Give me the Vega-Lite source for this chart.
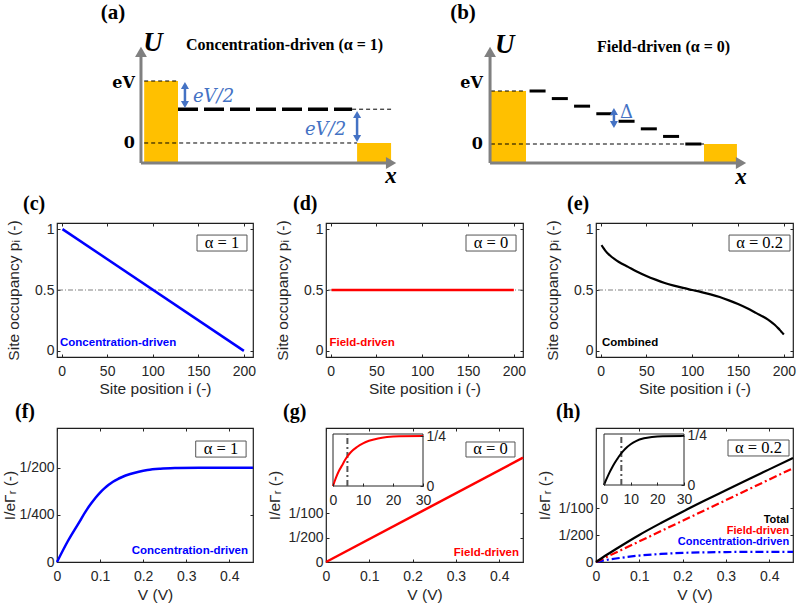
{
"$schema": "https://vega.github.io/schema/vega-lite/v6.json",
"background": "white",
"padding": {"left": 2, "top": 0, "right": 0, "bottom": 0},
"config": {
 "view": {"stroke": "#1f1f1f", "strokeWidth": 1.2},
 "axis": {"labelFont": "Liberation Sans", "labelFontSize": 14, "titleFont": "Liberation Sans", "titleFontSize": 15.5, "titleFontWeight": "normal", "labelColor": "#262626", "titleColor": "#262626", "tickColor": "#262626", "tickSize": -3, "tickWidth": 1, "domain": false, "grid": false, "labelFlush": false, "labelOverlap": false},
 "axisX": {"labelPadding": 10},
 "axisY": {"labelPadding": 6}
},
"columns": 3,
"spacing": {"row": 71, "column": 73},
"bounds": "flush",
"concat": [
 {
  "width": 196, "height": 152, "view": {"stroke": null},
  "encoding": {
   "x": {"field": "x", "type": "quantitative", "scale": {"domain": [-0.6798, 0.4213], "nice": false, "zero": false}, "axis": null},
   "y": {"field": "y", "type": "quantitative", "scale": {"domain": [-0.1452, 2.3065], "nice": false, "zero": false}, "axis": null}
  },
  "layer": [
   {"data": {"values": [{"x": -0.19, "x2": 0, "y": -0.323, "y2": 1}, {"x": 1.006, "x2": 1.197, "y": -0.323, "y2": 0}]}, "mark": {"type": "rect", "fill": "#FFC000"}, "encoding": {"x2": {"field": "x2"}, "y2": {"field": "y2"}}},
   {"data": {"values": [{"x": -0.19, "x2": 0, "y": 1, "y2": 1}, {"x": -0.19, "x2": 1.006, "y": 0, "y2": 0}, {"x": 0.978, "x2": 1.197, "y": 0.545, "y2": 0.545}]}, "mark": {"type": "rule", "color": "#000000", "strokeWidth": 1, "strokeDash": [4, 3]}, "encoding": {"x2": {"field": "x2"}, "y2": {"field": "y2"}}},
   {"data": {"values": [{"x": 0, "x2": 0.978, "y": 0.545, "y2": 0.545}]}, "mark": {"type": "rule", "color": "#000000", "strokeWidth": 3.5, "strokeDash": [20, 6]}, "encoding": {"x2": {"field": "x2"}, "y2": {"field": "y2"}}},
   {"data": {"values": [{"x": -0.208, "x2": -0.208, "y": -0.323, "y2": 1.47}, {"x": -0.208, "x2": 1.197, "y": -0.323, "y2": -0.323}]}, "mark": {"type": "rule", "color": "#808080", "strokeWidth": 3}, "encoding": {"x2": {"field": "x2"}, "y2": {"field": "y2"}}},
   {"data": {"values": [{"x": -0.208, "y": 1.47}]}, "mark": {"type": "point", "shape": "triangle-up", "filled": true, "size": 140, "color": "#808080", "opacity": 1}},
   {"data": {"values": [{"x": 1.197, "y": -0.323}]}, "mark": {"type": "point", "shape": "triangle-right", "filled": true, "size": 140, "color": "#808080", "opacity": 1}},
   {"data": {"values": [{"x": 0.039, "x2": 0.039, "y": 0.621, "y2": 0.928}, {"x": 1.006, "x2": 1.006, "y": 0.072, "y2": 0.46}]}, "mark": {"type": "rule", "color": "#4472C4", "strokeWidth": 2.5}, "encoding": {"x2": {"field": "x2"}, "y2": {"field": "y2"}}},
   {"data": {"values": [{"x": 0.039, "y": 0.928}, {"x": 1.006, "y": 0.46}]}, "mark": {"type": "point", "shape": "triangle-up", "filled": true, "size": 65, "color": "#4472C4", "opacity": 1}},
   {"data": {"values": [{"x": 0.039, "y": 0.621}, {"x": 1.006, "y": 0.072}]}, "mark": {"type": "point", "shape": "triangle-down", "filled": true, "size": 65, "color": "#4472C4", "opacity": 1}},
   {"data": {"values": [{"x": -0.242, "y": 0.968, "t": "eV"}, {"x": -0.242, "y": 0, "t": "0"}]}, "mark": {"type": "text", "font": "DejaVu Serif", "fontWeight": "bold", "fontSize": 16, "align": "right", "baseline": "middle", "color": "#000000"}, "encoding": {"text": {"field": "t"}}},
   {"data": {"values": [{"x": -0.14, "y": 1.613, "t": "U"}]}, "mark": {"type": "text", "font": "Liberation Serif", "fontWeight": "bold", "fontStyle": "italic", "fontSize": 27, "align": "center", "baseline": "middle", "color": "#000000"}, "encoding": {"text": {"field": "t"}}},
   {"data": {"values": [{"x": 1.197, "y": -0.53, "t": "x"}]}, "mark": {"type": "text", "font": "Liberation Serif", "fontWeight": "bold", "fontStyle": "italic", "fontSize": 23, "align": "center", "baseline": "middle", "color": "#000000"}, "encoding": {"text": {"field": "t"}}},
   {"data": {"values": [{"x": 0.045, "y": 1.581, "t": "Concentration-driven (α = 1)"}]}, "mark": {"type": "text", "font": "Liberation Serif", "fontWeight": "bold", "fontSize": 16, "align": "left", "baseline": "middle", "color": "#000000"}, "encoding": {"text": {"field": "t"}}},
   {"data": {"values": [{"x": -0.365, "y": 2.097, "t": "(a)"}]}, "mark": {"type": "text", "font": "Liberation Serif", "fontWeight": "bold", "fontSize": 21, "align": "center", "baseline": "middle", "color": "#000000"}, "encoding": {"text": {"field": "t"}}},
   {"data": {"values": [{"x": 0.084, "y": 0.742, "t": "eV/2"}, {"x": 0.713, "y": 0.21, "t": "eV/2"}]}, "mark": {"type": "text", "font": "DejaVu Serif", "fontStyle": "italic", "fontSize": 18, "align": "left", "baseline": "middle", "color": "#4472C4"}, "encoding": {"text": {"field": "t"}}}
  ]
 },
 {
  "width": 197, "height": 152, "view": {"stroke": null},
  "encoding": {
   "x": {"field": "x", "type": "quantitative", "scale": {"domain": [-1.1236, -0.01685], "nice": false, "zero": false}, "axis": null},
   "y": {"field": "y", "type": "quantitative", "scale": {"domain": [-0.1509, 2.717], "nice": false, "zero": false}, "axis": null}
  },
  "layer": [
   {"data": {"values": [{"x": -0.197, "x2": 0, "y": -0.358, "y2": 1}, {"x": 1.0, "x2": 1.185, "y": -0.358, "y2": 0}]}, "mark": {"type": "rect", "fill": "#FFC000"}, "encoding": {"x2": {"field": "x2"}, "y2": {"field": "y2"}}},
   {"data": {"values": [{"x": -0.197, "x2": 0, "y": 1, "y2": 1}, {"x": -0.197, "x2": 1.0, "y": 0, "y2": 0}]}, "mark": {"type": "rule", "color": "#000000", "strokeWidth": 1, "strokeDash": [4, 3]}, "encoding": {"x2": {"field": "x2"}, "y2": {"field": "y2"}}},
   {"data": {"values": [{"x": 0.02, "x2": 0.11, "y": 1, "y2": 1}, {"x": 0.145, "x2": 0.235, "y": 0.857, "y2": 0.857}, {"x": 0.27, "x2": 0.36, "y": 0.714, "y2": 0.714}, {"x": 0.395, "x2": 0.485, "y": 0.571, "y2": 0.571}, {"x": 0.52, "x2": 0.61, "y": 0.429, "y2": 0.429}, {"x": 0.645, "x2": 0.735, "y": 0.286, "y2": 0.286}, {"x": 0.77, "x2": 0.86, "y": 0.143, "y2": 0.143}, {"x": 0.895, "x2": 0.985, "y": 0, "y2": 0}]}, "mark": {"type": "rule", "color": "#000000", "strokeWidth": 3}, "encoding": {"x2": {"field": "x2"}, "y2": {"field": "y2"}}},
   {"data": {"values": [{"x": -0.202, "x2": -0.202, "y": -0.358, "y2": 1.736}, {"x": -0.202, "x2": 1.208, "y": -0.358, "y2": -0.358}]}, "mark": {"type": "rule", "color": "#808080", "strokeWidth": 3}, "encoding": {"x2": {"field": "x2"}, "y2": {"field": "y2"}}},
   {"data": {"values": [{"x": -0.202, "y": 1.736}]}, "mark": {"type": "point", "shape": "triangle-up", "filled": true, "size": 140, "color": "#808080", "opacity": 1}},
   {"data": {"values": [{"x": 1.208, "y": -0.358}]}, "mark": {"type": "point", "shape": "triangle-right", "filled": true, "size": 140, "color": "#808080", "opacity": 1}},
   {"data": {"values": [{"x": 0.494, "x2": 0.494, "y": 0.368, "y2": 0.613}]}, "mark": {"type": "rule", "color": "#4472C4", "strokeWidth": 2.5}, "encoding": {"x2": {"field": "x2"}, "y2": {"field": "y2"}}},
   {"data": {"values": [{"x": 0.494, "y": 0.613}]}, "mark": {"type": "point", "shape": "triangle-up", "filled": true, "size": 65, "color": "#4472C4", "opacity": 1}},
   {"data": {"values": [{"x": 0.494, "y": 0.368}]}, "mark": {"type": "point", "shape": "triangle-down", "filled": true, "size": 65, "color": "#4472C4", "opacity": 1}},
   {"data": {"values": [{"x": -0.242, "y": 1.151, "t": "eV"}, {"x": -0.242, "y": 0, "t": "0"}]}, "mark": {"type": "text", "font": "DejaVu Serif", "fontWeight": "bold", "fontSize": 16, "align": "right", "baseline": "middle", "color": "#000000"}, "encoding": {"text": {"field": "t"}}},
   {"data": {"values": [{"x": -0.12, "y": 1.868, "t": "U"}]}, "mark": {"type": "text", "font": "Liberation Serif", "fontWeight": "bold", "fontStyle": "italic", "fontSize": 27, "align": "center", "baseline": "middle", "color": "#000000"}, "encoding": {"text": {"field": "t"}}},
   {"data": {"values": [{"x": 1.208, "y": -0.62, "t": "x"}]}, "mark": {"type": "text", "font": "Liberation Serif", "fontWeight": "bold", "fontStyle": "italic", "fontSize": 23, "align": "center", "baseline": "middle", "color": "#000000"}, "encoding": {"text": {"field": "t"}}},
   {"data": {"values": [{"x": 0.399, "y": 1.83, "t": "Field-driven (α = 0)"}]}, "mark": {"type": "text", "font": "Liberation Serif", "fontWeight": "bold", "fontSize": 16, "align": "left", "baseline": "middle", "color": "#000000"}, "encoding": {"text": {"field": "t"}}},
   {"data": {"values": [{"x": -0.354, "y": 2.472, "t": "(b)"}]}, "mark": {"type": "text", "font": "Liberation Serif", "fontWeight": "bold", "fontSize": 21, "align": "center", "baseline": "middle", "color": "#000000"}, "encoding": {"text": {"field": "t"}}},
   {"data": {"values": [{"x": 0.528, "y": 0.585, "t": "Δ"}]}, "mark": {"type": "text", "font": "DejaVu Serif", "fontSize": 18, "align": "left", "baseline": "middle", "color": "#4472C4"}, "encoding": {"text": {"field": "t"}}}
  ]
 },
 {"width": 197, "height": 152, "view": {"stroke": null}, "data": {"values": []}, "mark": "point"},
 {
  "width": 196, "height": 134,
  "title": {"text": "(c)", "anchor": "start", "frame": "group", "dx": -34, "dy": 21, "offset": 7, "baseline": "bottom", "font": "Liberation Serif", "fontWeight": "bold", "fontSize": 20, "color": "#000000"},
  "resolve": {"scale": {"x": "independent", "y": "independent"}, "axis": {"x": "independent", "y": "independent"}},
  "layer": [
   {"layer": [
    {"data": {"values": [{}]}, "mark": {"type": "rule", "color": "#808080", "strokeWidth": 1, "strokeDash": [5, 2, 1, 2]}, "encoding": {"y": {"datum": 0.5}}},
    {"data": {"values": [{"i": 1, "p": 1}, {"i": 200, "p": 0}]}, "mark": {"type": "line", "color": "#0000FF", "strokeWidth": 2.5},
     "encoding": {
      "x": {"field": "i", "type": "quantitative", "scale": {"domain": [-5, 210], "nice": false, "zero": false}, "axis": {"values": [0, 50, 100, 150, 200], "title": "Site position i (-)", "titlePadding": 3}},
      "y": {"field": "p", "type": "quantitative", "scale": {"domain": [-0.05, 1.05], "nice": false, "zero": false}, "axis": {"values": [0, 0.5, 1], "format": "~g", "title": "Site occupancy pᵢ (-)", "titlePadding": 13}}
     }},
    {"data": {"values": [{}]}, "mark": {"type": "rect", "fill": "white", "stroke": "#555555", "strokeWidth": 1}, "encoding": {"x": {"datum": 148.6}, "x2": {"datum": 203.4}, "y": {"datum": 0.951}, "y2": {"datum": 0.82}}},
    {"data": {"values": [{}]}, "mark": {"type": "text", "text": "α = 1", "font": "Liberation Serif", "fontSize": 16.5, "align": "center", "baseline": "middle", "color": "#000000"}, "encoding": {"x": {"datum": 176}, "y": {"datum": 0.886}}},
    {"data": {"values": [{}]}, "mark": {"type": "text", "text": "Concentration-driven", "font": "Liberation Sans", "fontWeight": "bold", "fontSize": 11.5, "align": "left", "baseline": "middle", "color": "#0000FF"}, "encoding": {"x": {"datum": -1.7}, "y": {"datum": 0.065}}}
   ]},
   {"data": {"values": [{}]}, "mark": {"type": "point", "opacity": 0},
    "encoding": {
     "x": {"datum": 100, "type": "quantitative", "scale": {"domain": [-5, 210], "nice": false, "zero": false}, "axis": {"orient": "top", "values": [0, 50, 100, 150, 200], "labels": false, "title": null}},
     "y": {"datum": 0.5, "type": "quantitative", "scale": {"domain": [-0.05, 1.05], "nice": false, "zero": false}, "axis": {"orient": "right", "values": [0, 0.5, 1], "labels": false, "title": null}}
    }}
  ]
 },
 {
  "width": 197, "height": 134,
  "title": {"text": "(d)", "anchor": "start", "frame": "group", "dx": -33, "dy": 21, "offset": 7, "baseline": "bottom", "font": "Liberation Serif", "fontWeight": "bold", "fontSize": 20, "color": "#000000"},
  "resolve": {"scale": {"x": "independent", "y": "independent"}, "axis": {"x": "independent", "y": "independent"}},
  "layer": [
   {"layer": [
    {"data": {"values": [{}]}, "mark": {"type": "rule", "color": "#808080", "strokeWidth": 1, "strokeDash": [5, 2, 1, 2]}, "encoding": {"y": {"datum": 0.5}}},
    {"data": {"values": [{"i": 1, "p": 0.5}, {"i": 200, "p": 0.5}]}, "mark": {"type": "line", "color": "#FF0000", "strokeWidth": 2.5},
     "encoding": {
      "x": {"field": "i", "type": "quantitative", "scale": {"domain": [-5, 210], "nice": false, "zero": false}, "axis": {"values": [0, 50, 100, 150, 200], "title": "Site position i (-)", "titlePadding": 3}},
      "y": {"field": "p", "type": "quantitative", "scale": {"domain": [-0.05, 1.05], "nice": false, "zero": false}, "axis": {"values": [0, 0.5, 1], "format": "~g", "title": "Site occupancy pᵢ (-)", "titlePadding": 13}}
     }},
    {"data": {"values": [{}]}, "mark": {"type": "rect", "fill": "white", "stroke": "#555555", "strokeWidth": 1}, "encoding": {"x": {"datum": 147.8}, "x2": {"datum": 202.4}, "y": {"datum": 0.951}, "y2": {"datum": 0.82}}},
    {"data": {"values": [{}]}, "mark": {"type": "text", "text": "α = 0", "font": "Liberation Serif", "fontSize": 16.5, "align": "center", "baseline": "middle", "color": "#000000"}, "encoding": {"x": {"datum": 175}, "y": {"datum": 0.886}}},
    {"data": {"values": [{}]}, "mark": {"type": "text", "text": "Field-driven", "font": "Liberation Sans", "fontWeight": "bold", "fontSize": 11.5, "align": "left", "baseline": "middle", "color": "#FF0000"}, "encoding": {"x": {"datum": -1.2}, "y": {"datum": 0.065}}}
   ]},
   {"data": {"values": [{}]}, "mark": {"type": "point", "opacity": 0},
    "encoding": {
     "x": {"datum": 100, "type": "quantitative", "scale": {"domain": [-5, 210], "nice": false, "zero": false}, "axis": {"orient": "top", "values": [0, 50, 100, 150, 200], "labels": false, "title": null}},
     "y": {"datum": 0.5, "type": "quantitative", "scale": {"domain": [-0.05, 1.05], "nice": false, "zero": false}, "axis": {"orient": "right", "values": [0, 0.5, 1], "labels": false, "title": null}}
    }}
  ]
 },
 {
  "width": 197, "height": 134,
  "title": {"text": "(e)", "anchor": "start", "frame": "group", "dx": -29, "dy": 21, "offset": 7, "baseline": "bottom", "font": "Liberation Serif", "fontWeight": "bold", "fontSize": 20, "color": "#000000"},
  "resolve": {"scale": {"x": "independent", "y": "independent"}, "axis": {"x": "independent", "y": "independent"}},
  "layer": [
   {"layer": [
    {"data": {"values": [{}]}, "mark": {"type": "rule", "color": "#808080", "strokeWidth": 1, "strokeDash": [5, 2, 1, 2]}, "encoding": {"y": {"datum": 0.5}}},
    {"data": {"values": [{"i": 1, "p": 0.868}, {"i": 3, "p": 0.845}, {"i": 6, "p": 0.815}, {"i": 10, "p": 0.785}, {"i": 15, "p": 0.755}, {"i": 20, "p": 0.73}, {"i": 30, "p": 0.69}, {"i": 40, "p": 0.65}, {"i": 50, "p": 0.615}, {"i": 60, "p": 0.585}, {"i": 70, "p": 0.558}, {"i": 80, "p": 0.536}, {"i": 90, "p": 0.517}, {"i": 100, "p": 0.5}, {"i": 110, "p": 0.483}, {"i": 120, "p": 0.464}, {"i": 130, "p": 0.442}, {"i": 140, "p": 0.415}, {"i": 150, "p": 0.385}, {"i": 160, "p": 0.35}, {"i": 170, "p": 0.31}, {"i": 180, "p": 0.27}, {"i": 185, "p": 0.245}, {"i": 190, "p": 0.215}, {"i": 194, "p": 0.185}, {"i": 197, "p": 0.16}, {"i": 200, "p": 0.135}]}, "mark": {"type": "line", "color": "#000000", "strokeWidth": 2.2, "interpolate": "monotone"},
     "encoding": {
      "x": {"field": "i", "type": "quantitative", "scale": {"domain": [-5, 210], "nice": false, "zero": false}, "axis": {"values": [0, 50, 100, 150, 200], "title": "Site position i (-)", "titlePadding": 3}},
      "y": {"field": "p", "type": "quantitative", "scale": {"domain": [-0.05, 1.05], "nice": false, "zero": false}, "axis": {"values": [0, 0.5, 1], "format": "~g", "title": "Site occupancy pᵢ (-)", "titlePadding": 13}}
     }},
    {"data": {"values": [{}]}, "mark": {"type": "rect", "fill": "white", "stroke": "#555555", "strokeWidth": 1}, "encoding": {"x": {"datum": 140.2}, "x2": {"datum": 206.7}, "y": {"datum": 0.951}, "y2": {"datum": 0.82}}},
    {"data": {"values": [{}]}, "mark": {"type": "text", "text": "α = 0.2", "font": "Liberation Serif", "fontSize": 16.5, "align": "center", "baseline": "middle", "color": "#000000"}, "encoding": {"x": {"datum": 173.5}, "y": {"datum": 0.886}}},
    {"data": {"values": [{}]}, "mark": {"type": "text", "text": "Combined", "font": "Liberation Sans", "fontWeight": "bold", "fontSize": 11.5, "align": "left", "baseline": "middle", "color": "#000000"}, "encoding": {"x": {"datum": 1.5}, "y": {"datum": 0.065}}}
   ]},
   {"data": {"values": [{}]}, "mark": {"type": "point", "opacity": 0},
    "encoding": {
     "x": {"datum": 100, "type": "quantitative", "scale": {"domain": [-5, 210], "nice": false, "zero": false}, "axis": {"orient": "top", "values": [0, 50, 100, 150, 200], "labels": false, "title": null}},
     "y": {"datum": 0.5, "type": "quantitative", "scale": {"domain": [-0.05, 1.05], "nice": false, "zero": false}, "axis": {"orient": "right", "values": [0, 0.5, 1], "labels": false, "title": null}}
    }}
  ]
 },
 {
  "width": 196, "height": 134,
  "title": {"text": "(f)", "anchor": "start", "frame": "group", "dx": -42, "dy": 21, "offset": 7, "baseline": "bottom", "font": "Liberation Serif", "fontWeight": "bold", "fontSize": 20, "color": "#000000"},
  "resolve": {"scale": {"x": "independent", "y": "independent"}, "axis": {"x": "independent", "y": "independent"}},
  "layer": [
   {"layer": [
    {"data": {"values": [{"V": 0, "I": 0}, {"V": 0.025, "I": 0.0011}, {"V": 0.05, "I": 0.00205}, {"V": 0.07, "I": 0.0028}, {"V": 0.08, "I": 0.00312}, {"V": 0.09, "I": 0.00342}, {"V": 0.1, "I": 0.00368}, {"V": 0.11, "I": 0.0039}, {"V": 0.12, "I": 0.00409}, {"V": 0.13, "I": 0.00425}, {"V": 0.14, "I": 0.00438}, {"V": 0.15, "I": 0.00449}, {"V": 0.17, "I": 0.00466}, {"V": 0.19, "I": 0.00478}, {"V": 0.21, "I": 0.00487}, {"V": 0.24, "I": 0.00494}, {"V": 0.28, "I": 0.00498}, {"V": 0.33, "I": 0.005}, {"V": 0.455, "I": 0.005}]}, "mark": {"type": "line", "color": "#0000FF", "strokeWidth": 2.5, "interpolate": "monotone"},
     "encoding": {
      "x": {"field": "V", "type": "quantitative", "scale": {"domain": [0, 0.455], "nice": false, "zero": false}, "axis": {"values": [0, 0.1, 0.2, 0.3, 0.4], "format": "~g", "title": "V (V)", "titlePadding": 4}},
      "y": {"field": "I", "type": "quantitative", "scale": {"domain": [0, 0.0071], "nice": false, "zero": false}, "axis": {"values": [0, 0.0025, 0.005], "labelExpr": "datum.value == 0 ? '0' : (datum.value < 0.003 ? '1/400' : '1/200')", "title": "I/eΓᵣ (-)", "titlePadding": 1}}
     }},
    {"data": {"values": [{}]}, "mark": {"type": "rect", "fill": "white", "stroke": "#555555", "strokeWidth": 1}, "encoding": {"x": {"datum": 0.322}, "x2": {"datum": 0.439}, "y": {"datum": 0.00641}, "y2": {"datum": 0.00556}}},
    {"data": {"values": [{}]}, "mark": {"type": "text", "text": "α = 1", "font": "Liberation Serif", "fontSize": 16.5, "align": "center", "baseline": "middle", "color": "#000000"}, "encoding": {"x": {"datum": 0.3805}, "y": {"datum": 0.00599}}},
    {"data": {"values": [{}]}, "mark": {"type": "text", "text": "Concentration-driven", "font": "Liberation Sans", "fontWeight": "bold", "fontSize": 11.5, "align": "right", "baseline": "middle", "color": "#0000FF"}, "encoding": {"x": {"datum": 0.4434}, "y": {"datum": 0.00058}}}
   ]},
   {"data": {"values": [{}]}, "mark": {"type": "point", "opacity": 0},
    "encoding": {
     "x": {"datum": 0.2, "type": "quantitative", "scale": {"domain": [0, 0.455], "nice": false, "zero": false}, "axis": {"orient": "top", "values": [0, 0.1, 0.2, 0.3, 0.4], "labels": false, "title": null}},
     "y": {"datum": 0.003, "type": "quantitative", "scale": {"domain": [0, 0.0071], "nice": false, "zero": false}, "axis": {"orient": "right", "values": [0, 0.0025, 0.005], "labels": false, "title": null}}
    }}
  ]
 },
 {
  "width": 197, "height": 134,
  "title": {"text": "(g)", "anchor": "start", "frame": "group", "dx": -43, "dy": 21, "offset": 7, "baseline": "bottom", "font": "Liberation Serif", "fontWeight": "bold", "fontSize": 20, "color": "#000000"},
  "resolve": {"scale": {"x": "independent", "y": "independent"}, "axis": {"x": "independent", "y": "independent"}},
  "layer": [
   {
    "layer": [
     {"data": {"values": [{"V": 0, "I": 0}, {"V": 0.455, "I": 0.0214}]}, "mark": {"type": "line", "color": "#FF0000", "strokeWidth": 2.5},
      "encoding": {
       "x": {"field": "V", "type": "quantitative", "scale": {"domain": [0, 0.455], "nice": false, "zero": false}, "axis": {"values": [0, 0.1, 0.2, 0.3, 0.4], "format": "~g", "title": "V (V)", "titlePadding": 4}},
       "y": {"field": "I", "type": "quantitative", "scale": {"domain": [0, 0.0275], "nice": false, "zero": false}, "axis": {"values": [0, 0.005, 0.01], "labelExpr": "datum.value == 0 ? '0' : (datum.value < 0.007 ? '1/200' : '1/100')", "title": "I/eΓᵣ (-)", "titlePadding": 5}}
      }},
     {"data": {"values": [{}]}, "mark": {"type": "rect", "fill": "white", "stroke": "#555555", "strokeWidth": 1}, "encoding": {"x": {"datum": 0.3233}, "x2": {"datum": 0.4365}, "y": {"datum": 0.02463}, "y2": {"datum": 0.02155}}},
     {"data": {"values": [{}]}, "mark": {"type": "text", "text": "α = 0", "font": "Liberation Serif", "fontSize": 16.5, "align": "center", "baseline": "middle", "color": "#000000"}, "encoding": {"x": {"datum": 0.38}, "y": {"datum": 0.02309}}},
     {"data": {"values": [{}]}, "mark": {"type": "text", "text": "Field-driven", "font": "Liberation Sans", "fontWeight": "bold", "fontSize": 11.5, "align": "right", "baseline": "middle", "color": "#FF0000"}, "encoding": {"x": {"datum": 0.4458}, "y": {"datum": 0.00185}}}
    ]
   },
   {
    "layer": [
     {"data": {"values": [{}]}, "mark": {"type": "rect", "fill": "white", "stroke": "#262626", "strokeWidth": 1}, "encoding": {"x": {"datum": 0}, "x2": {"datum": 30}, "y": {"datum": 0}, "y2": {"datum": 0.26}}},
     {"data": {"values": [{}]}, "mark": {"type": "rule", "color": "#555555", "strokeWidth": 2, "strokeDash": [6, 3, 2, 3]}, "encoding": {"x": {"datum": 4.8}, "y": {"datum": 0}, "y2": {"datum": 0.26}}},
     {"data": {"values": [{"x": 0, "y": 0}, {"x": 1, "y": 0.042}, {"x": 2, "y": 0.076}, {"x": 3, "y": 0.102}, {"x": 4, "y": 0.13}, {"x": 5, "y": 0.152}, {"x": 6, "y": 0.17}, {"x": 8, "y": 0.195}, {"x": 10, "y": 0.213}, {"x": 12, "y": 0.226}, {"x": 15, "y": 0.238}, {"x": 18, "y": 0.245}, {"x": 22, "y": 0.249}, {"x": 30, "y": 0.25}]}, "mark": {"type": "line", "color": "#FF0000", "strokeWidth": 2, "interpolate": "monotone"},
      "encoding": {
       "x": {"field": "x", "type": "quantitative", "scale": {"domain": [0, 30], "range": [7, 97], "nice": false, "zero": false}, "axis": {"orient": "bottom", "offset": -76, "values": [0, 10, 20, 30], "format": "d", "title": null, "zindex": 1}},
       "y": {"field": "y", "type": "quantitative", "scale": {"domain": [0, 0.26], "range": [58, 6], "nice": false, "zero": false}, "axis": {"orient": "right", "offset": -100, "values": [0, 0.25], "labelExpr": "datum.value == 0 ? '0' : '1/4'", "title": null, "zindex": 1}}
      }}
    ]
   },
   {"data": {"values": [{}]}, "mark": {"type": "point", "opacity": 0},
    "encoding": {
     "x": {"datum": 0.3, "type": "quantitative", "scale": {"domain": [0, 0.455], "nice": false, "zero": false}, "axis": {"orient": "top", "values": [0, 0.1, 0.2, 0.3, 0.4], "labels": false, "title": null}},
     "y": {"datum": 0.005, "type": "quantitative", "scale": {"domain": [0, 0.0275], "nice": false, "zero": false}, "axis": {"orient": "right", "values": [0, 0.005, 0.01], "labels": false, "title": null}}
    }}
  ]
 },
 {
  "width": 197, "height": 134,
  "title": {"text": "(h)", "anchor": "start", "frame": "group", "dx": -40, "dy": 21, "offset": 7, "baseline": "bottom", "font": "Liberation Serif", "fontWeight": "bold", "fontSize": 20, "color": "#000000"},
  "resolve": {"scale": {"x": "independent", "y": "independent"}, "axis": {"x": "independent", "y": "independent"}},
  "layer": [
   {
    "layer": [
     {"data": {"values": [{"V": 0, "I": 0}, {"V": 0.025, "I": 0.0004}, {"V": 0.05, "I": 0.0007}, {"V": 0.1, "I": 0.0012}, {"V": 0.15, "I": 0.0015}, {"V": 0.2, "I": 0.0017}, {"V": 0.25, "I": 0.0018}, {"V": 0.3, "I": 0.00185}, {"V": 0.35, "I": 0.0019}, {"V": 0.455, "I": 0.0019}]}, "mark": {"type": "line", "color": "#0000FF", "strokeWidth": 2.2, "strokeDash": [8, 3, 2, 3], "interpolate": "monotone"},
      "encoding": {
       "x": {"field": "V", "type": "quantitative", "scale": {"domain": [0, 0.455], "nice": false, "zero": false}, "axis": {"values": [0, 0.1, 0.2, 0.3, 0.4], "format": "~g", "title": "V (V)", "titlePadding": 4}},
       "y": {"field": "I", "type": "quantitative", "scale": {"domain": [0, 0.025], "nice": false, "zero": false}, "axis": {"values": [0, 0.005, 0.01], "labelExpr": "datum.value == 0 ? '0' : (datum.value < 0.007 ? '1/200' : '1/100')", "title": "I/eΓᵣ (-)", "titlePadding": 5}}
      }},
     {"data": {"values": [{"V": 0, "I": 0}, {"V": 0.455, "I": 0.0175}]}, "mark": {"type": "line", "color": "#FF0000", "strokeWidth": 2.2, "strokeDash": [8, 3, 2, 3]},
      "encoding": {"x": {"field": "V", "type": "quantitative"}, "y": {"field": "I", "type": "quantitative"}}},
     {"data": {"values": [{"V": 0, "I": 0}, {"V": 0.025, "I": 0.00136}, {"V": 0.05, "I": 0.00262}, {"V": 0.1, "I": 0.00505}, {"V": 0.15, "I": 0.00727}, {"V": 0.2, "I": 0.00939}, {"V": 0.25, "I": 0.01142}, {"V": 0.3, "I": 0.01339}, {"V": 0.35, "I": 0.01536}, {"V": 0.4, "I": 0.01728}, {"V": 0.455, "I": 0.0194}]}, "mark": {"type": "line", "color": "#000000", "strokeWidth": 2.2, "interpolate": "monotone"},
      "encoding": {"x": {"field": "V", "type": "quantitative"}, "y": {"field": "I", "type": "quantitative"}}},
     {"data": {"values": [{}]}, "mark": {"type": "rect", "fill": "white", "stroke": "#555555", "strokeWidth": 1}, "encoding": {"x": {"datum": 0.3049}, "x2": {"datum": 0.4458}, "y": {"datum": 0.02276}, "y2": {"datum": 0.01978}}},
     {"data": {"values": [{}]}, "mark": {"type": "text", "text": "α = 0.2", "font": "Liberation Serif", "fontSize": 16.5, "align": "center", "baseline": "middle", "color": "#000000"}, "encoding": {"x": {"datum": 0.3753}, "y": {"datum": 0.02127}}},
     {"data": {"values": [{}]}, "mark": {"type": "text", "text": "Total", "font": "Liberation Sans", "fontWeight": "bold", "fontSize": 11, "align": "right", "baseline": "middle", "color": "#000000"}, "encoding": {"x": {"datum": 0.446}, "y": {"datum": 0.0078}}},
     {"data": {"values": [{}]}, "mark": {"type": "text", "text": "Field-driven", "font": "Liberation Sans", "fontWeight": "bold", "fontSize": 11, "align": "right", "baseline": "middle", "color": "#FF0000"}, "encoding": {"x": {"datum": 0.446}, "y": {"datum": 0.00572}}},
     {"data": {"values": [{}]}, "mark": {"type": "text", "text": "Concentration-driven", "font": "Liberation Sans", "fontWeight": "bold", "fontSize": 11, "align": "right", "baseline": "middle", "color": "#0000FF"}, "encoding": {"x": {"datum": 0.446}, "y": {"datum": 0.00365}}}
    ]
   },
   {
    "layer": [
     {"data": {"values": [{}]}, "mark": {"type": "rect", "fill": "white", "stroke": "#262626", "strokeWidth": 1}, "encoding": {"x": {"datum": 0}, "x2": {"datum": 30}, "y": {"datum": 0}, "y2": {"datum": 0.26}}},
     {"data": {"values": [{}]}, "mark": {"type": "rule", "color": "#555555", "strokeWidth": 2, "strokeDash": [6, 3, 2, 3]}, "encoding": {"x": {"datum": 6.5}, "y": {"datum": 0}, "y2": {"datum": 0.26}}},
     {"data": {"values": [{"x": 0, "y": 0}, {"x": 1, "y": 0.032}, {"x": 2, "y": 0.062}, {"x": 3, "y": 0.088}, {"x": 4, "y": 0.112}, {"x": 5, "y": 0.133}, {"x": 6, "y": 0.153}, {"x": 7, "y": 0.17}, {"x": 8, "y": 0.185}, {"x": 10, "y": 0.208}, {"x": 12, "y": 0.224}, {"x": 15, "y": 0.238}, {"x": 18, "y": 0.245}, {"x": 22, "y": 0.249}, {"x": 30, "y": 0.25}]}, "mark": {"type": "line", "color": "#000000", "strokeWidth": 2, "interpolate": "monotone"},
      "encoding": {
       "x": {"field": "x", "type": "quantitative", "scale": {"domain": [0, 30], "range": [8, 88], "nice": false, "zero": false}, "axis": {"orient": "bottom", "offset": -77, "values": [0, 10, 20, 30], "format": "d", "title": null, "zindex": 1}},
       "y": {"field": "y", "type": "quantitative", "scale": {"domain": [0, 0.26], "range": [57, 6], "nice": false, "zero": false}, "axis": {"orient": "right", "offset": -109, "values": [0, 0.25], "labelExpr": "datum.value == 0 ? '0' : '1/4'", "title": null, "zindex": 1}}
      }}
    ]
   },
   {"data": {"values": [{}]}, "mark": {"type": "point", "opacity": 0},
    "encoding": {
     "x": {"datum": 0.3, "type": "quantitative", "scale": {"domain": [0, 0.455], "nice": false, "zero": false}, "axis": {"orient": "top", "values": [0, 0.1, 0.2, 0.3, 0.4], "labels": false, "title": null}},
     "y": {"datum": 0.005, "type": "quantitative", "scale": {"domain": [0, 0.025], "nice": false, "zero": false}, "axis": {"orient": "right", "values": [0, 0.005, 0.01], "labels": false, "title": null}}
    }}
  ]
 }
]
}
